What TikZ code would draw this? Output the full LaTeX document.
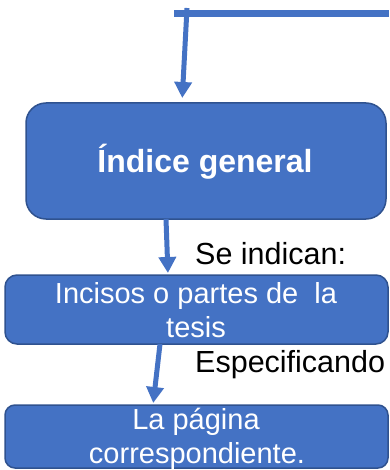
\documentclass[tikz,border=0pt]{standalone}
\usepackage{fontspec}
\setmainfont{Liberation Sans}
\usetikzlibrary{arrows.meta}
\definecolor{obl}{HTML}{4472C4}
\definecolor{obd}{HTML}{2F528F}
\begin{document}
\begin{tikzpicture}[x=1pt,y=-1pt,
 box/.style={draw=obd, line width=1.5pt, fill=obl, inner sep=0pt, outer sep=0pt},
 arr/.style={draw=obl, line width=5pt, -{Triangle[width=17pt,length=16pt]}},
 wtxt/.style={text=white, font=\fontsize{29}{34}\selectfont, anchor=base, inner sep=0pt},
 btxt/.style={text=black, font=\fontsize{30.5}{36}\selectfont, anchor=base west, inner sep=0pt}]
\useasboundingbox (0,0) rectangle (389,470);
% boxes
\node[box, rounded corners=20pt, minimum width=360pt, minimum height=116pt] (box1) at (206,161) {};
\node[box, rounded corners=12pt, minimum width=383pt, minimum height=69pt] (box2) at (196.5,309.5) {};
\node[box, rounded corners=10pt, minimum width=383pt, minimum height=63pt] (box3) at (196.5,436.5) {};
% texts
\node[wtxt, font=\fontsize{32}{38}\selectfont\bfseries] (t1) at (205,173) {Índice general};
\node[wtxt] (t2a) at (196,303) {Incisos o partes de\ \ la};
\node[wtxt] (t2b) at (196,337) {tesis};
\node[wtxt] (t3a) at (196,429) {La página};
\node[wtxt] (t3b) at (197,463) {correspondiente.};
\node[btxt] (l1) at (195,264) {Se indican:};
\node[btxt] (l2) at (195,372) {Especificando};
% top line and arrows
\coordinate (hl) at (174,13.5);
\coordinate (hr) at (389,13.5);
\coordinate (a1) at (187,8);
\draw[obl, line width=7pt] (hl) -- (hr);
\draw[arr, shorten >=5pt] (a1) -- ([xshift=-24pt]box1.north);
\draw[arr, shorten >=2pt] ([xshift=-40pt]box1.south) -- ([xshift=-28.5pt]box2.north);
\draw[arr, shorten >=2pt] ([xshift=-36.5pt]box2.south) -- ([xshift=-43.5pt]box3.north);
\end{tikzpicture}
\end{document}
